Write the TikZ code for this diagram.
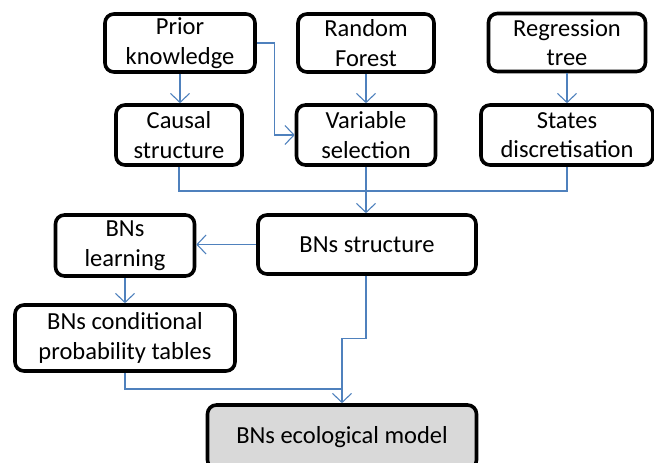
\documentclass[tikz,border=0pt]{standalone}
\usepackage{fontspec}
\setmainfont{Carlito}
\usetikzlibrary{arrows.meta}
\definecolor{conncol}{RGB}{79,129,189}
\definecolor{ecofill}{RGB}{217,217,217}
\tikzset{
  box/.style={draw=black, line width=3.6pt, rounded corners=9pt, fill=white,
    align=center, inner sep=0pt, font=\fontsize{24.5}{29.5}\selectfont},
  conn/.style={draw=conncol, line width=1.1pt},
  arr/.style={conn, -{Straight Barb[length=9pt,width=19pt,line width=1.1pt]}}
}
\begin{document}
\begin{tikzpicture}[x=1pt,y=1pt]
\useasboundingbox (0,0) rectangle (654,-463);
\clip (0,0) rectangle (654,-463);
\node[box, minimum width=150pt, minimum height=58pt] (prior) at (180,-43) {Prior\\knowledge};
\node[box, minimum width=136pt, minimum height=58pt] (rf) at (366,-43) {Random\\Forest};
\node[box, minimum width=157pt, minimum height=58pt] (reg) at (567,-42.5) {Regression\\tree};
\node[box, minimum width=126pt, minimum height=60pt] (causal) at (179,-135) {Causal\\structure};
\node[box, minimum width=139pt, minimum height=60pt] (var) at (366,-135) {Variable\\selection};
\node[box, minimum width=172pt, minimum height=60pt] (states) at (567,-135) {States\\discretisation};
\node[box, minimum width=218pt, minimum height=59pt] (struct) at (367,-244.5) {BNs structure};
\node[box, minimum width=139pt, minimum height=61pt] (learn) at (125,-245.5) {BNs\\learning};
\node[box, minimum width=220pt, minimum height=66pt] (cpt) at (125,-338) {BNs conditional\\probability tables};
\node[box, fill=ecofill, minimum width=269pt, minimum height=64pt] (eco) at (342,-437) {BNs ecological model};
\coordinate (m1) at (366,-191);
\coordinate (j1) at (342,-389);
\draw[arr] (prior.south) -- (causal.north -| prior.south);
\draw[arr] (prior.east) -- ++(18,0) |- (var.west);
\draw[arr] (rf.south) -- (var.north -| rf.south);
\draw[arr] (reg.south) -- (states.north -| reg.south);
\draw[conn] (causal.south) |- (m1);
\draw[conn] (states.south) |- (m1);
\draw[arr] (var.south) -- (struct.north -| var.south);
\draw[arr] (struct.west) -- (struct.west -| learn.east);
\draw[arr] (learn.south) -- (cpt.north -| learn.south);
\draw[arr] (struct.south -| var.south) -- ++(0,-63) -| (eco.north);
\draw[conn] (cpt.south) |- (j1);
\end{tikzpicture}
\end{document}
